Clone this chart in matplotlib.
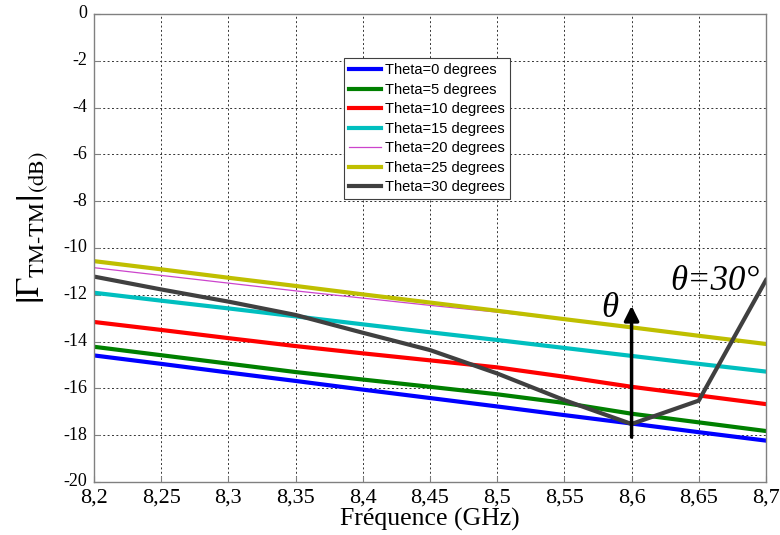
import numpy as np
import matplotlib
matplotlib.use('Agg')
import matplotlib.pyplot as plt
from matplotlib.transforms import ScaledTranslation

plt.rcParams['axes.unicode_minus'] = False
plt.rcParams['mathtext.fontset'] = 'stix'

# Frequency points (GHz)
freq = [8.2, 8.25, 8.3, 8.35, 8.4, 8.45, 8.5, 8.55, 8.6, 8.65, 8.7]

# |Gamma TM-TM| in dB
theta0 = [-14.59, -14.95, -15.32, -15.68, -16.05, -16.41, -16.77, -17.14, -17.50, -17.87, -18.23]
theta5 = [-14.22, -14.58, -14.94, -15.30, -15.62, -15.93, -16.25, -16.62, -17.08, -17.45, -17.82]
theta10 = [-13.16, -13.50, -13.85, -14.19, -14.50, -14.80, -15.10, -15.50, -15.93, -16.30, -16.67]
theta15 = [-11.91, -12.25, -12.58, -12.92, -13.26, -13.60, -13.93, -14.27, -14.61, -14.95, -15.28]
theta20 = [-10.84, -11.17, -11.50, -11.83, -12.14, -12.45, -12.74, -13.06, -13.41, -13.76, -14.12]
theta25 = [-10.56, -10.91, -11.27, -11.62, -11.98, -12.33, -12.68, -13.04, -13.39, -13.75, -14.10]
theta30 = [-11.22, -11.77, -12.29, -12.86, -13.62, -14.36, -15.36, -16.50, -17.52, -16.52, -11.37]

labels = ['Theta=0 degrees', 'Theta=5 degrees', 'Theta=10 degrees', 'Theta=15 degrees',
          'Theta=20 degrees', 'Theta=25 degrees', 'Theta=30 degrees']
colors = ['#0000ff', '#008000', '#ff0000', '#00bfbf', '#cc44cc', '#bfbf00', '#404040']
widths = [3, 3, 3, 3, 0.9, 3, 3]

xticks = [8.2, 8.25, 8.3, 8.35, 8.4, 8.45, 8.5, 8.55, 8.6, 8.65, 8.7]
xticklabels = ['8,2', '8,25', '8,3', '8,35', '8,4', '8,45', '8,5', '8,55', '8,6', '8,65', '8,7']
yticks = [0, -2, -4, -6, -8, -10, -12, -14, -16, -18, -20]

fig = plt.figure(figsize=(7.8, 5.35), dpi=100)
ax = fig.add_axes([0.1205, 0.099, 0.8615, 0.8748])

series = [theta0, theta5, theta10, theta15, theta20, theta25, theta30]
for s, lab, c, w in zip(series, labels, colors, widths):
    ax.plot(freq, s, color=c, lw=w, label=lab)

ax.set_xlim(8.2, 8.7)
ax.set_ylim(-20, 0)
ax.set_xticks(xticks)
ax.set_xticklabels(xticklabels, family='Liberation Serif', fontsize=16)
ax.set_yticks(yticks)
ax.set_yticklabels([str(v) for v in yticks], family='Liberation Serif', fontsize=13)
ax.tick_params(direction='in', length=4, color='#808080')
ax.tick_params(axis='x', pad=5)
ax.tick_params(axis='y', pad=5)
# MATLAB puts the y labels a touch above the tick
for lbl in ax.get_yticklabels():
    lbl.set_transform(lbl.get_transform() + ScaledTranslation(0, 1.5 / 72, fig.dpi_scale_trans))
for sp in ax.spines.values():
    sp.set_color('#808080')
    sp.set_linewidth(1.0)
ax.grid(True, color='#333333', linestyle=(0, (2, 2.5)), lw=0.7)

ax.set_xlabel('Fréquence (GHz)', family='Liberation Serif', fontsize=18.5, labelpad=0)
fig.text(0.042, 0.575, r'$\left|\Gamma_{\mathrm{TM\text{-}TM}}\right|_{(\mathrm{dB})}$',
         rotation=90, ha='center', va='center', fontsize=23)

leg = ax.legend(loc='upper left', bbox_to_anchor=(0.372, 0.906), borderaxespad=0,
                fancybox=False, framealpha=1, edgecolor='#404040',
                prop={'family': 'Liberation Sans', 'size': 10.5},
                handlelength=2.2, handletextpad=0.25, labelspacing=0.38, borderpad=0.35)
leg.get_frame().set_linewidth(0.8)

# arrow showing increasing theta
ax.annotate('', xy=(8.6, -12.35), xytext=(8.6, -18.2),
            arrowprops=dict(arrowstyle='-|>', lw=2.5, color='k', mutation_scale=22))
ax.text(8.584, -12.6, 'θ', family='Liberation Serif', style='italic', fontsize=25,
        ha='center', va='center')
ax.text(8.6286, -11.44, 'θ=30°', family='Liberation Serif', style='italic', fontsize=25,
        ha='left', va='center', clip_on=False)

fig.savefig('out.png', dpi=100)
